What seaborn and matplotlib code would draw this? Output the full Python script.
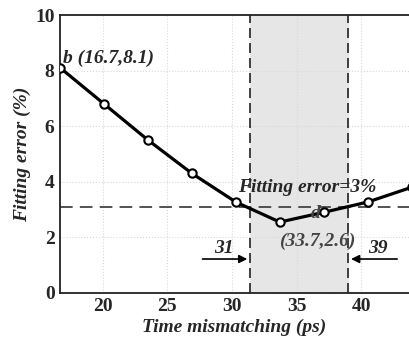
import matplotlib
matplotlib.use("Agg")
import matplotlib.pyplot as plt
import seaborn as sns
import pandas as pd

# Data
mismatch_ps = [16.7, 20.1, 23.5, 26.9, 30.3, 33.7, 37.1, 40.5, 43.9]
fitting_error = [8.1, 6.8, 5.5, 4.3, 3.27, 2.55, 2.9, 3.27, 3.8]
threshold = 3.1
band_lo, band_hi = 31.4, 39.0
x_ticks = [20, 25, 30, 35, 40]
y_ticks = [0, 2, 4, 6, 8, 10]

sns.set_style("white")
plt.rcParams['font.family'] = ['Liberation Serif', 'DejaVu Serif']

df = pd.DataFrame({"x": mismatch_ps, "y": fitting_error})

fig = plt.figure(figsize=(4.09, 3.41), dpi=100)
ax = fig.add_axes([0.147, 0.141, 0.853, 0.815])

ax.axvspan(band_lo, band_hi, color='#e6e6e6', zorder=0)
ax.grid(True, color='#d8d8d8', linestyle=':', linewidth=0.8, zorder=0)
ax.axhline(threshold, color='#444444', linestyle=(0, (7, 4)), linewidth=1.3, zorder=1)
for xv in (band_lo, band_hi):
    ax.axvline(xv, color='#222222', linestyle=(0, (6, 3)), linewidth=1.2, zorder=1)

sns.lineplot(data=df, x="x", y="y", ax=ax, color='black', linewidth=2.3,
             marker='o', markersize=6, markerfacecolor='white',
             markeredgecolor='black', markeredgewidth=1.5, zorder=3, clip_on=True)

ax.set_xlim(16.7, 43.7)
ax.set_ylim(0, 10)
ax.set_xticks(x_ticks)
ax.set_yticks(y_ticks)
ax.tick_params(direction='in', length=3, labelsize=14, pad=4)
for lab in ax.get_xticklabels() + ax.get_yticklabels():
    lab.set_fontweight('bold')

for s in ax.spines.values():
    s.set_color('#222222')
    s.set_linewidth(1.3)
ax.spines['right'].set_visible(False)

ax.set_xlabel("Time mismatching (ps)", fontsize=14, fontweight='bold', style='italic', labelpad=2)
ax.set_ylabel("Fitting error (%)", fontsize=14, fontweight='bold', style='italic', labelpad=3)

tkw = dict(fontweight='bold', style='italic', fontsize=14)
ax.text(16.9, 8.45, "b (16.7,8.1)", ha='left', va='center', **tkw)
ax.text(35.8, 3.8, "Fitting error=3%", ha='center', va='center', **tkw)
ax.text(36.5, 2.85, "d", ha='center', va='center', color='#444444', **tkw)
ax.text(36.6, 1.85, "(33.7,2.6)", ha='center', va='center', color='#444444', **tkw)
ax.text(29.4, 1.6, "31", ha='center', va='center', **tkw)
ax.text(41.3, 1.6, "39", ha='center', va='center', **tkw)

ax.annotate("", xy=(band_lo, 1.22), xytext=(27.5, 1.22),
            arrowprops=dict(arrowstyle='-|>', color='black', lw=1.2, mutation_scale=12))
ax.annotate("", xy=(band_hi, 1.22), xytext=(43.0, 1.22),
            arrowprops=dict(arrowstyle='-|>', color='black', lw=1.2, mutation_scale=12))

fig.savefig("out.png", dpi=100)
